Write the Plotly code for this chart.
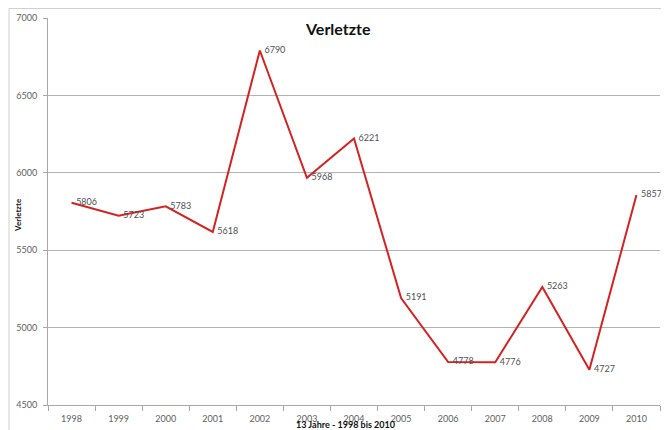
import plotly.graph_objects as go

years = ["1998", "1999", "2000", "2001", "2002", "2003", "2004",
         "2005", "2006", "2007", "2008", "2009", "2010"]
verletzte = [5806, 5723, 5783, 5618, 6790, 5968, 6221,
             5191, 4778, 4776, 5263, 4727, 5857]

# page body has an 8px default margin, so the figure is sized/offset for it
OFF = 8
W, H = 669 - OFF, 430 - OFF
L, T = 48 - OFF, 18 - OFF
R = W - (660 - OFF)
B = H - (405 - OFF)
PW, PH = W - L - R, H - T - B
FONT = "Lato"


def px_x(x):
    return (x - OFF - L) / PW


def px_y(y):
    return 1 - (y - OFF - T) / PH


fig = go.Figure()
fig.add_trace(go.Scatter(
    x=years, y=verletzte, mode="lines+text",
    line=dict(color="#d42222", width=2),
    text=["  " + str(v) for v in verletzte],
    textposition="middle right",
    textfont=dict(family=FONT, size=9, color="#505050"),
    cliponaxis=False, showlegend=False,
))

fig.update_layout(
    width=W, height=H,
    margin=dict(l=L, r=R, t=T, b=B, autoexpand=False),
    paper_bgcolor="white", plot_bgcolor="white",
    font=dict(family=FONT),
    xaxis=dict(
        type="category", showgrid=False, showline=True,
        linecolor="#a8a8a8", linewidth=1, automargin=False,
        ticks="outside", tickson="boundaries", ticklen=5, tickcolor="#a8a8a8",
        ticklabelstandoff=5,
        tickfont=dict(family=FONT, size=9, color="#606060"),
        range=[-0.5, 12.5], fixedrange=True,
    ),
    yaxis=dict(
        range=[4500, 7000], dtick=500, showgrid=True,
        gridcolor="#b4b4b4", gridwidth=1, zeroline=False,
        showline=True, linecolor="#a8a8a8", linewidth=1, automargin=False,
        ticks="outside", ticklen=4, tickcolor="#a8a8a8",
        ticklabelstandoff=4,
        tickfont=dict(family=FONT, size=9, color="#606060"),
        fixedrange=True,
    ),
    shapes=[dict(type="rect", xref="paper", yref="paper",
                 x0=px_x(9), x1=px_x(668),
                 y0=px_y(440), y1=px_y(8.5),
                 line=dict(color="#d0d0d0", width=1), layer="below")],
    annotations=[
        dict(text="<b>Verletzte</b>", xref="paper", yref="paper",
             x=px_x(338), y=px_y(28), xanchor="center", yanchor="middle",
             showarrow=False, font=dict(family=FONT, size=16, color="#111111")),
        dict(text="<b>13 Jahre - 1998 bis 2010</b>", xref="paper", yref="paper",
             x=px_x(345), y=px_y(424.5), xanchor="center", yanchor="middle",
             showarrow=False, font=dict(family=FONT, size=9, color="#111111")),
        dict(text="<b>Verletzte</b>", xref="paper", yref="paper",
             x=px_x(18), y=px_y(215), xanchor="center", yanchor="middle",
             textangle=-90, showarrow=False,
             font=dict(family=FONT, size=8, color="#111111")),
    ],
)

fig.write_html("out.html")
